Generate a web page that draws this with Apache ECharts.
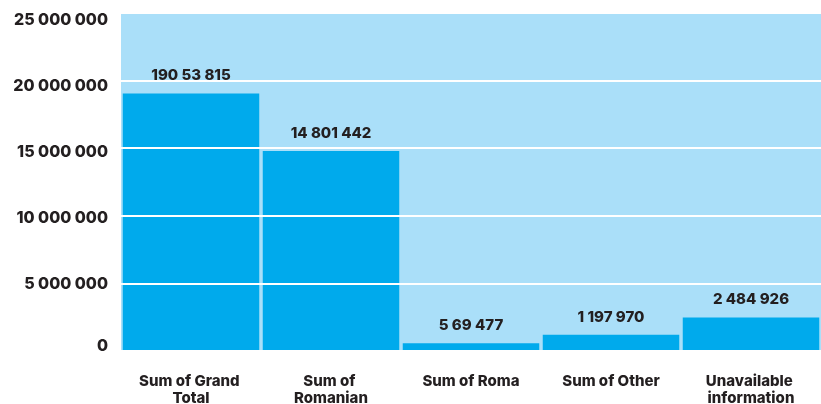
<!DOCTYPE html>
<html>
<head>
<meta charset="utf-8">
<script src="https://cdn.jsdelivr.net/npm/echarts@6/dist/echarts.min.js"></script>
<style>
  html, body { margin: 0; padding: 0; background: #fff; }
</style>
</head>
<body>
<div id="chart" style="width: 821px; height: 404px;"></div>
<script>
var categories = ["Sum of Grand Total", "Sum of Romanian", "Sum of Roma", "Sum of Other", "Unavailable information"];
var values = [19053815, 14801442, 569477, 1197970, 2484926];
var valueLabels = ["190 53 815", "14 801 442", "5 69 477", "1 197 970", "2 484 926"];
var yTickLabels = ["0", "5 000 000", "10 000 000", "15 000 000", "20 000 000", "25 000 000"];

// the tick labels in the original sit a little off their grid lines
var tickShift = [-5, 1, 2, 4, 6, 7];
var tickRich = {};
tickShift.forEach(function (d, i) {
  tickRich["t" + i] = {
    color: "#231f20",
    fontSize: 16,
    fontWeight: 800,
    padding: d > 0 ? [2 * d, 0, 0, 0] : [0, 0, -2 * d, 0],
  };
});

var myChart = echarts.init(document.getElementById("chart"));
var option = {
  animation: false,
  textStyle: {
    fontFamily: "Inter, Roboto, sans-serif",
  },
  grid: {
    left: 121,
    right: 0,
    top: 13,
    bottom: 53,
    outerBoundsMode: "none", // keep the plot size fixed, labels may run to the edge
    containLabel: false,
    show: true,
    backgroundColor: "#aadff9",
    borderWidth: 0,
  },
  xAxis: {
    type: "category",
    data: categories,
    axisLine: { show: false },
    axisTick: { show: false },
    axisLabel: {
      margin: 22,
      interval: 0,
      width: 112,
      overflow: "break",
      lineHeight: 17,
      color: "#231f20",
      fontSize: 15,
      fontWeight: 800,
    },
  },
  yAxis: {
    type: "value",
    min: 0,
    max: 25000000,
    interval: 5000000,
    z: 5, // grid lines sit on top of the bars
    axisLine: { show: false },
    axisTick: { show: false },
    splitLine: {
      show: true,
      lineStyle: { color: "#ffffff", width: 2 },
    },
    axisLabel: {
      margin: 13,
      rich: tickRich,
      formatter: function (value) {
        var i = Math.round(value / 5000000);
        return "{t" + i + "|" + yTickLabels[i] + "}";
      },
    },
  },
  series: [
    {
      type: "bar",
      data: values,
      barCategoryGap: "2.5%",
      itemStyle: { color: "#00aaec" },
      label: {
        show: true,
        position: "top",
        distance: 10,
        color: "#231f20",
        fontSize: 15,
        fontWeight: 800,
        formatter: function (p) {
          return valueLabels[p.dataIndex];
        },
      },
    },
  ],
};
myChart.setOption(option);
</script>
</body>
</html>
